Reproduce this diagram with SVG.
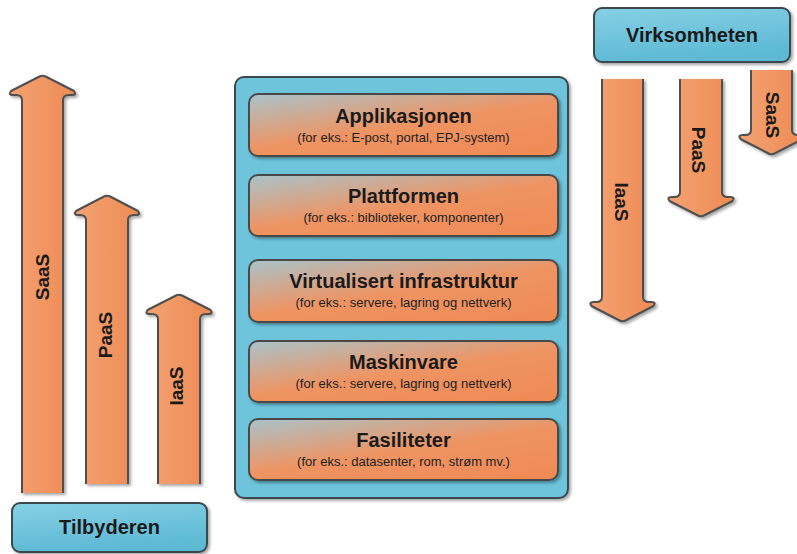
<svg xmlns="http://www.w3.org/2000/svg" width="797" height="554" viewBox="0 0 797 554">
<defs>
<filter id="sh" x="-10%" y="-10%" width="130%" height="130%">
<feDropShadow dx="2" dy="2" stdDeviation="1.5" flood-color="#000" flood-opacity="0.35"/>
</filter>
<linearGradient id="gArrow" x1="0" y1="0" x2="1" y2="0">
<stop offset="0" stop-color="#f4a273"/>
<stop offset="1" stop-color="#ee8b54"/>
</linearGradient>
<linearGradient id="gLayer" x1="0" y1="0" x2="0.8" y2="1">
<stop offset="0" stop-color="#a9c3cb"/>
<stop offset="0.55" stop-color="#ee9463"/>
<stop offset="1" stop-color="#f08b57"/>
</linearGradient>
<linearGradient id="gBlue" x1="0" y1="0" x2="0.3" y2="1">
<stop offset="0" stop-color="#86d0e5"/>
<stop offset="1" stop-color="#5db9d4"/>
</linearGradient>
</defs>
<style>
.arrow{fill:url(#gArrow);stroke:#4f4f4f;stroke-width:2;stroke-linejoin:round;filter:url(#sh)}
.layer{fill:url(#gLayer);stroke:#4a4a4a;stroke-width:2;filter:url(#sh)}
.blue{fill:url(#gBlue);stroke:#3a4a50;stroke-width:2;filter:url(#sh)}
.cont{fill:#6dc4db;stroke:#3a4a50;stroke-width:2;filter:url(#sh)}
.t{font-family:"Liberation Sans",Arial,sans-serif;font-weight:bold;font-size:20px;fill:#1a1a1a;text-anchor:middle}
.s{font-family:"Liberation Sans",Arial,sans-serif;font-size:13px;fill:#222;text-anchor:middle}
.a{font-family:"Liberation Sans",Arial,sans-serif;font-weight:bold;font-size:19px;fill:#1a1a1a;text-anchor:middle}
</style>

<g id="container">
<rect class="cont" x="235" y="77" width="333" height="421" rx="9"/>
</g>

<g id="layer-applikasjonen">
<rect class="layer" x="249" y="94" width="309" height="62" rx="9"/>
<text class="t" x="403.5" y="123">Applikasjonen</text>
<text class="s" x="403.5" y="142">(for eks.: E-post, portal, EPJ-system)</text>
</g>
<g id="layer-plattformen">
<rect class="layer" x="249" y="175" width="309" height="61" rx="9"/>
<text class="t" x="403.5" y="203">Plattformen</text>
<text class="s" x="403.5" y="222">(for eks.: biblioteker, komponenter)</text>
</g>
<g id="layer-virtualisert">
<rect class="layer" x="249" y="260" width="309" height="62" rx="9"/>
<text class="t" x="403.5" y="288">Virtualisert infrastruktur</text>
<text class="s" x="403.5" y="307">(for eks.: servere, lagring og nettverk)</text>
</g>
<g id="layer-maskinvare">
<rect class="layer" x="249" y="341" width="309" height="61" rx="9"/>
<text class="t" x="403.5" y="369">Maskinvare</text>
<text class="s" x="403.5" y="388">(for eks.: servere, lagring og nettverk)</text>
</g>
<g id="layer-fasiliteter">
<rect class="layer" x="249" y="419" width="309" height="61" rx="9"/>
<text class="t" x="403.5" y="447">Fasiliteter</text>
<text class="s" x="403.5" y="466">(for eks.: datasenter, rom, strøm mv.)</text>
</g>

<g id="tilbyderen">
<rect class="blue" x="12" y="503" width="195" height="49" rx="8"/>
<text class="t" x="109.5" y="534">Tilbyderen</text>
</g>
<g id="virksomheten">
<rect class="blue" x="594" y="8" width="196" height="54" rx="8"/>
<text class="t" x="692" y="42">Virksomheten</text>
</g>

<g id="arrows">
<g id="up-saas">
<path class="arrow" d="M22,493 L22,100 Q22,95 16,95 L13,95 Q8,95 11,91 L39.5,76.5 Q42.5,75 45.5,76.5 L74,91 Q77,95 72,95 L69,95 Q63,95 63,100 L63,493"/>
<text class="a" transform="translate(49,277) rotate(-90)">SaaS</text>
</g>
<g id="up-paas">
<path class="arrow" d="M86,484 L86,220 Q86,215 80,215 L78,215 Q73,215 76,211 L104,196.5 Q107,195 110,196.5 L138,211 Q141,215 136,215 L134,215 Q128,215 128,220 L128,484"/>
<text class="a" transform="translate(112,335) rotate(-90)">PaaS</text>
</g>
<g id="up-iaas">
<path class="arrow" d="M158,484 L158,319 Q158,314 152,314 L149.5,314 Q144.5,314 147.5,310 L176,295.5 Q179,294 182,295.5 L210.5,310 Q213.5,314 208.5,314 L206,314 Q200,314 200,319 L200,484"/>
<text class="a" transform="translate(183,386) rotate(-90)">IaaS</text>
</g>
<g id="down-iaas">
<path class="arrow" d="M602,79 L602,297 Q602,302 596,302 L593.5,302 Q588.5,302 591.5,306 L619.5,320.5 Q622.5,322 625.5,320.5 L653.5,306 Q656.5,302 651.5,302 L649,302 Q643,302 643,297 L643,79"/>
<text class="a" transform="translate(615,202) rotate(90)">IaaS</text>
</g>
<g id="down-paas">
<path class="arrow" d="M680,79 L680,192 Q680,197 674,197 L671.5,197 Q666.5,197 669.5,201 L698,215.5 Q701,217 704,215.5 L732.5,201 Q735.5,197 730.5,197 L728,197 Q722,197 722,192 L722,79"/>
<text class="a" transform="translate(692,150) rotate(90)">PaaS</text>
</g>
<g id="down-saas">
<path class="arrow" d="M751,70 L751,130 Q751,135 745,135 L742.5,135 Q737.5,135 740.5,139 L768.5,153.5 Q771.5,155 774.5,153.5 L802.5,139 Q805.5,135 800.5,135 L798,135 Q792,135 792,130 L792,70"/>
<text class="a" transform="translate(766,115) rotate(90)">SaaS</text>
</g>
</g>
</svg>
